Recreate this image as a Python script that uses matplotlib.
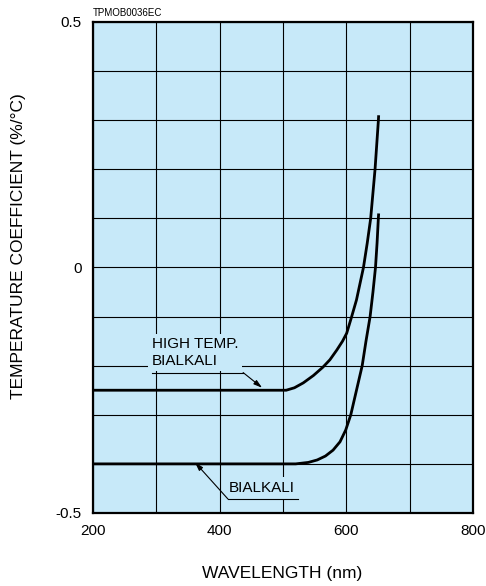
import matplotlib
matplotlib.use('Agg')
import matplotlib.pyplot as plt

plt.rcParams['font.family'] = ['Liberation Sans', 'DejaVu Sans']

# curve data (wavelength nm, temp. coefficient %/degC)
hi_wl = [200, 505, 518, 532, 548, 563, 574, 585, 594, 600.5, 608.4, 616, 627, 633, 638.4, 645.3, 650.6, 651]
hi_tc = [-0.25, -0.25, -0.245, -0.235, -0.22, -0.203, -0.188, -0.168, -0.15, -0.134, -0.1, -0.066,
         0.0, 0.05, 0.1, 0.2, 0.3, 0.31]

bi_wl = [200, 520, 540, 554, 567, 579, 590, 599, 607, 616, 625, 631, 637.5, 642, 646, 648.5, 650.5, 651]
bi_tc = [-0.4, -0.4, -0.397, -0.392, -0.384, -0.372, -0.355, -0.331, -0.3, -0.25, -0.2, -0.15,
         -0.1, -0.05, 0.0, 0.05, 0.1, 0.11]

xticks = [200, 300, 400, 500, 600, 700, 800]
xlabels = ['200', '', '400', '', '600', '', '800']
yticks = [-0.5, -0.4, -0.3, -0.2, -0.1, 0.0, 0.1, 0.2, 0.3, 0.4, 0.5]
ylabels = ['-0.5', '', '', '', '', '0', '', '', '', '', '0.5']

bg = '#c7e9f9'

fig = plt.figure(figsize=(4.86, 5.86), dpi=100)
ax = fig.add_axes([0.1914, 0.1246, 0.7819, 0.8379])
ax.set_facecolor(bg)

ax.plot(hi_wl, hi_tc, color='black', lw=2.0, zorder=4, solid_capstyle='butt')
ax.plot(bi_wl, bi_tc, color='black', lw=2.0, zorder=4, solid_capstyle='butt')

ax.set_xlim(200, 800)
ax.set_ylim(-0.5, 0.5)
ax.set_xticks(xticks)
ax.set_xticklabels(xlabels)
ax.set_yticks(yticks)
ax.set_yticklabels(ylabels)
ax.tick_params(length=0, labelsize=11, pad=8)
ax.grid(True, color='black', lw=0.8)
ax.set_axisbelow(True)
for s in ax.spines.values():
    s.set_linewidth(1.6)

ax.set_xlabel('WAVELENGTH (nm)', fontsize=12.5)
ax.xaxis.set_label_coords(0.497, -0.108)
ax.set_ylabel('TEMPERATURE COEFFICIENT (%/°C)', fontsize=12.5)
ax.yaxis.set_label_coords(-0.176, 0.544)

# labels with leader lines
box = dict(boxstyle='square,pad=0.25', facecolor=bg, edgecolor='none')
ax.text(293, -0.173, 'HIGH TEMP.\nBIALKALI', fontsize=11, va='center', ha='left', bbox=box, zorder=3)
ax.plot([293, 437], [-0.214, -0.214], color='black', lw=0.8, zorder=4)
ax.annotate('', xy=(467, -0.245), xytext=(437, -0.214),
            arrowprops=dict(arrowstyle='-|>,head_length=0.5,head_width=0.15', color='black', lw=0.8,
                            shrinkA=0, shrinkB=0), zorder=4)

ax.text(415, -0.449, 'BIALKALI', fontsize=11, va='center', ha='left', bbox=box, zorder=3)
ax.plot([413, 524], [-0.4715, -0.4715], color='black', lw=0.8, zorder=4)
ax.annotate('', xy=(361, -0.397), xytext=(413, -0.4715),
            arrowprops=dict(arrowstyle='-|>,head_length=0.5,head_width=0.15', color='black', lw=0.8,
                            shrinkA=0, shrinkB=0), zorder=4)

fig.text(93 / 486, 1 - 16 / 586, 'TPMOB0036EC', fontsize=7, va='baseline', ha='left')

fig.savefig('out.png', dpi=100, facecolor='white')
